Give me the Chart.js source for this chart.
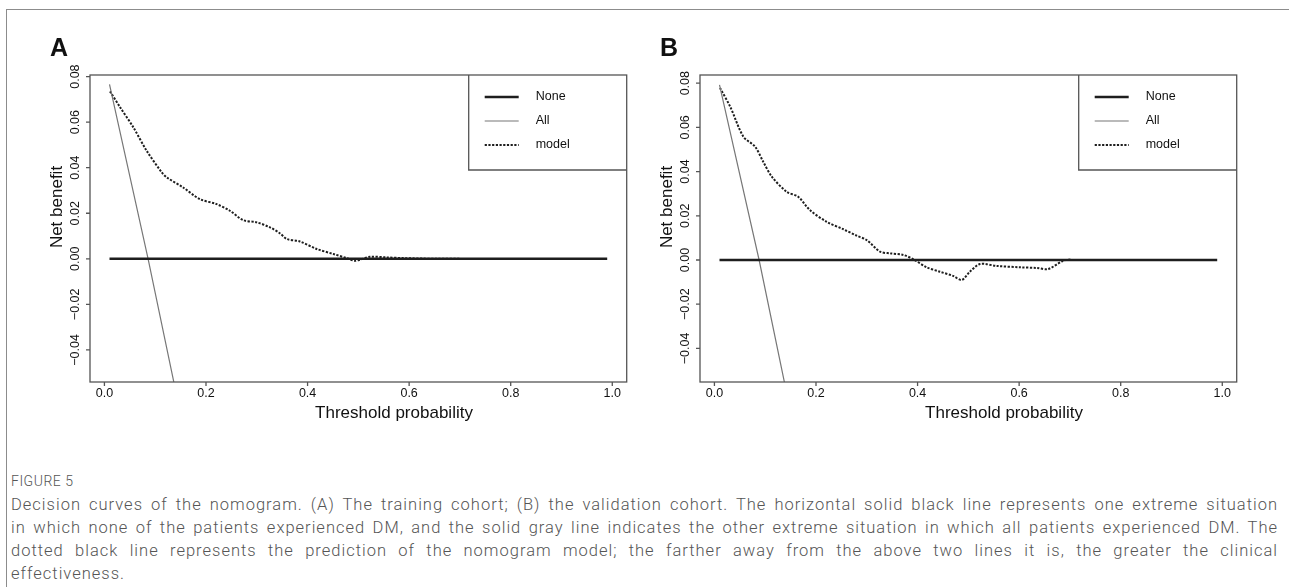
<!DOCTYPE html>
<html>
<head>
<meta charset="utf-8">
<title>Decision curves</title>
<script src="https://cdn.jsdelivr.net/npm/chart.js@4.4.1/dist/chart.umd.min.js"></script>
<style>
  body { margin: 0; background: #fff; width: 1289px; height: 587px; overflow: hidden; position: relative; }
  #box { position: absolute; left: 6px; top: 9px; width: 1300px; height: 600px; border-left: 1px solid #8c8c8c; border-top: 1px solid #8c8c8c; }
  canvas { position: absolute; top: 0; }
  #cA { left: 0; }
  #cB { left: 610px; }
  #caption { position: absolute; left: 11px; top: 471px; width: 1267px; color: #555; font-family: Roboto, "Open Sans", sans-serif; font-weight: 300; }
  #caption .fig { font-size: 14px; height: 22px; line-height: 20px; letter-spacing: 0.5px; }
  #caption .ln { font-size: 16.5px; letter-spacing: 1px; height: 23px; line-height: 23px; white-space: nowrap; text-align: justify; text-align-last: justify; }
  #caption .last { text-align-last: left; }
</style>
</head>
<body>
<div id="box"></div>
<canvas id="cA" width="640" height="430"></canvas>
<canvas id="cB" width="640" height="430"></canvas>
<div id="caption">
  <div class="fig">FIGURE 5</div>
  <div class="ln">Decision curves of the nomogram. (A) The training cohort; (B) the validation cohort. The horizontal solid black line represents one extreme situation</div>
  <div class="ln">in which none of the patients experienced DM, and the solid gray line indicates the other extreme situation in which all patients experienced DM. The</div>
  <div class="ln">dotted black line represents the prediction of the nomogram model; the farther away from the above two lines it is, the greater the clinical</div>
  <div class="ln last">effectiveness.</div>
</div>
<script>
// axis ticks
var xTicks = [0, 0.2, 0.4, 0.6, 0.8, 1.0];
var yTicks = [-0.04, -0.02, 0, 0.02, 0.04, 0.06, 0.08];

// "None" reference line (both panels)
var noneX = [0.01, 0.99];
var noneY = [0, 0];

// Panel A - training cohort
var allXA = [0.01, 0.086, 0.137];
var allYA = [0.0766, 0, -0.0545];
var modelXA = [0.011, 0.031, 0.057, 0.083, 0.113, 0.123, 0.155, 0.188, 0.221, 0.247, 0.273, 0.300, 0.326,
  0.346, 0.359, 0.385, 0.418, 0.451, 0.477, 0.493, 0.507, 0.523, 0.556, 0.588, 0.654, 0.70];
var modelYA = [0.0735, 0.0665, 0.0577, 0.0475, 0.0379, 0.0357, 0.0313, 0.0262, 0.0240, 0.0211, 0.0170, 0.0160, 0.0138,
  0.0111, 0.0087, 0.0076, 0.0043, 0.0021, 0.0003, -0.0009, -0.0001, 0.0009, 0.0006, 0.0003, 0.0, 0.0];

// Panel B - validation cohort
var allXB = [0.01, 0.088, 0.138];
var allYB = [0.0792, 0, -0.0555];
var modelXB = [0.011, 0.031, 0.057, 0.080, 0.096, 0.113, 0.142, 0.165, 0.188, 0.221, 0.254, 0.280, 0.300, 0.326,
  0.346, 0.372, 0.392, 0.418, 0.444, 0.470, 0.487, 0.503, 0.523, 0.556, 0.602, 0.635, 0.657, 0.687, 0.703];
var modelYB = [0.0778, 0.0694, 0.0558, 0.0513, 0.0445, 0.0377, 0.0309, 0.0286, 0.0226, 0.0173, 0.0139, 0.0110, 0.0090, 0.0038,
  0.0030, 0.0023, 0.0003, -0.0033, -0.0053, -0.0072, -0.0090, -0.0053, -0.0018, -0.0027, -0.0033, -0.0036, -0.0041, -0.0003, 0.0003];

var legendItems = ['None', 'All', 'model'];

function pts(xs, ys) {
  return xs.map(function (v, i) { return { x: v, y: ys[i] }; });
}

function fmtY(v) {
  var s = Math.abs(v).toFixed(2);
  return v < 0 ? '\u2212' + s : s;
}

// frame, ticks, labels, legend (R base-graphics look)
var deco = {
  id: 'deco',
  afterDraw: function (chart, args, o) {
    var ctx = chart.ctx, a = chart.chartArea, x = chart.scales.x, y = chart.scales.y;
    ctx.save();
    ctx.strokeStyle = '#555';
    ctx.lineWidth = 1.3;
    ctx.strokeRect(a.left, a.top, a.right - a.left, a.bottom - a.top);

    // tick marks
    ctx.beginPath();
    xTicks.forEach(function (v) {
      var px = x.getPixelForValue(v);
      ctx.moveTo(px, a.bottom); ctx.lineTo(px, a.bottom + 4);
    });
    yTicks.forEach(function (v) {
      var py = y.getPixelForValue(v);
      ctx.moveTo(a.left, py); ctx.lineTo(a.left - 4, py);
    });
    ctx.stroke();

    // tick labels
    ctx.fillStyle = '#111';
    ctx.font = '12.5px "Liberation Sans", Arial, sans-serif';
    ctx.textAlign = 'center';
    ctx.textBaseline = 'middle';
    xTicks.forEach(function (v) {
      ctx.fillText(v.toFixed(1), x.getPixelForValue(v), a.bottom + 12);
    });
    yTicks.forEach(function (v) {
      ctx.save();
      ctx.translate(a.left - 14, y.getPixelForValue(v));
      ctx.rotate(-Math.PI / 2);
      ctx.fillText(fmtY(v), 0, 0);
      ctx.restore();
    });

    // axis titles
    ctx.font = '17px "Liberation Sans", Arial, sans-serif';
    ctx.fillText('Threshold probability', a.left + 304, a.bottom + 31);
    ctx.save();
    ctx.translate(a.left - 33, a.top + 132);
    ctx.rotate(-Math.PI / 2);
    ctx.fillText('Net benefit', 0, 0);
    ctx.restore();

    // panel letter
    ctx.font = 'bold 25px "Liberation Sans", Arial, sans-serif';
    ctx.textAlign = 'left';
    ctx.fillText(o.letter, 50, 49);

    // legend
    var lx = a.right - 158, lb = a.top + 95;
    ctx.strokeStyle = '#555';
    ctx.lineWidth = 1.3;
    ctx.beginPath();
    ctx.moveTo(lx, a.top); ctx.lineTo(lx, lb); ctx.lineTo(a.right, lb);
    ctx.stroke();
    var ds = chart.data.datasets;
    ctx.font = '12.5px "Liberation Sans", Arial, sans-serif';
    legendItems.forEach(function (name, i) {
      var ry = a.top + 22 + i * 24;
      var d = ds[i];
      ctx.strokeStyle = d.borderColor;
      ctx.lineWidth = d.borderWidth;
      ctx.setLineDash(d.borderDash || []);
      ctx.beginPath();
      ctx.moveTo(a.right - 142, ry); ctx.lineTo(a.right - 108, ry);
      ctx.stroke();
      ctx.setLineDash([]);
      ctx.fillStyle = '#111';
      ctx.fillText(name, a.right - 91, ry);
    });
    ctx.restore();
  }
};

function makePanel(id, letter, allX, allY, modelX, modelY, yMin, yMax) {
  return new Chart(document.getElementById(id), {
    type: 'line',
    data: {
      datasets: [
        { data: pts(noneX, noneY), borderColor: '#1e1e1e', borderWidth: 2.4, tension: 0 },
        { data: pts(allX, allY), borderColor: '#777', borderWidth: 1.2, tension: 0 },
        { data: pts(modelX, modelY), borderColor: '#1e1e1e', borderWidth: 2, borderDash: [2.2, 1.5], tension: 0.3 }
      ]
    },
    options: {
      responsive: false,
      animation: false,
      devicePixelRatio: 1,
      layout: { padding: { top: 75, right: 13.3, left: 0, bottom: 0 } },
      elements: { point: { radius: 0 } },
      plugins: {
        legend: { display: false },
        tooltip: { enabled: false },
        deco: { letter: letter }
      },
      scales: {
        x: {
          type: 'linear', min: -0.0284, max: 1.0284,
          grid: { display: false }, border: { display: false }, ticks: { display: false },
          afterFit: function (s) { s.height = 48; }
        },
        y: {
          type: 'linear', min: yMin, max: yMax,
          grid: { display: false }, border: { display: false }, ticks: { display: false },
          afterFit: function (s) { s.width = 90; }
        }
      }
    },
    plugins: [deco]
  });
}

makePanel('cA', 'A', allXA, allYA, modelXA, modelYA, -0.0541, 0.0807);
makePanel('cB', 'B', allXB, allYB, modelXB, modelYB, -0.0552, 0.0837);
</script>
</body>
</html>
